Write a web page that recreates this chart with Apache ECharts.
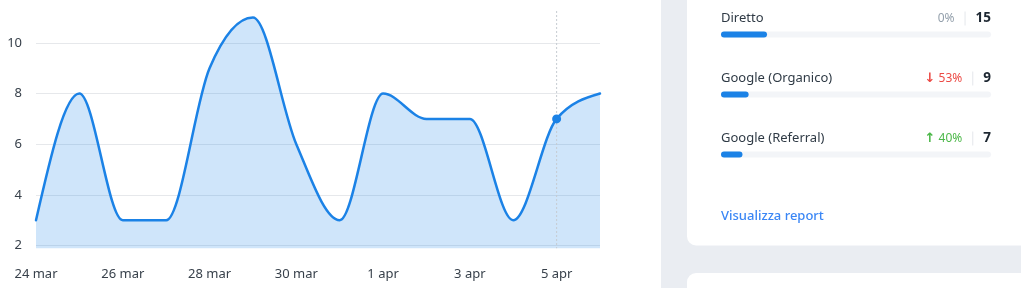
<!DOCTYPE html>
<html>
<head>
<meta charset="utf-8">
<script src="https://cdn.jsdelivr.net/npm/echarts@6/dist/echarts.min.js"></script>
<style>
html,body{margin:0;padding:0;background:#fff;}
#c{width:1021px;height:288px;}
</style>
</head>
<body>
<div id="c"></div>
<script>
// ---- data ----
const categories = ['24 mar','25 mar','26 mar','27 mar','28 mar','29 mar','30 mar','31 mar','1 apr','2 apr','3 apr','4 apr','5 apr','6 apr'];
const visits = [3, 8, 3, 3, 9, 11, 6, 3, 8, 7, 7, 3, 7, 8];
const highlightIndex = 12;
const yTicks = [2, 4, 6, 8, 10];

const sourceNames = ['Diretto', 'Google (Organico)', 'Google (Referral)'];
const sourceCounts = [15, 9, 7];
const sourceChanges = ['0%', '53%', '40%'];
const sourceTrend = [0, -1, 1];
const sourceScaleMax = 88;
const linkText = 'Visualizza report';

// ---- styles ----
const FONT = '"Noto Sans", Lato, sans-serif';
const BLUE = '#1b82e6';

// monotone cubic (d3 curveMonotoneX) slopes in pixel space
function monotoneSlopes(px, py) {
  const n = px.length, t = new Array(n).fill(0);
  for (let i = 1; i < n - 1; i++) {
    const h0 = px[i] - px[i - 1], h1 = px[i + 1] - px[i];
    const s0 = (py[i] - py[i - 1]) / h0, s1 = (py[i + 1] - py[i]) / h1;
    const p = (s0 * h1 + s1 * h0) / (h0 + h1);
    t[i] = (Math.sign(s0) + Math.sign(s1)) * Math.min(Math.abs(s0), Math.abs(s1), 0.5 * Math.abs(p)) || 0;
  }
  const h = px[1] - px[0];
  t[0] = (3 * (py[1] - py[0]) / h - t[1]) / 2;
  const hn = px[n - 1] - px[n - 2];
  t[n - 1] = (3 * (py[n - 1] - py[n - 2]) / hn - t[n - 2]) / 2;
  return t;
}

function renderCurve(params, api) {
  if (params.dataIndexInside !== 0) return null;
  const cs = params.coordSys;
  const n = visits.length;
  const px = [], py = [];
  for (let i = 0; i < n; i++) {
    const c = api.coord([api.value(0, i), api.value(1, i)]);
    px.push(c[0]); py.push(c[1]);
  }
  const t = monotoneSlopes(px, py);
  let d = 'M' + px[0] + ' ' + py[0];
  for (let i = 0; i < n - 1; i++) {
    const dx = (px[i + 1] - px[i]) / 3;
    d += ' C' + (px[i] + dx) + ' ' + (py[i] + dx * t[i]) + ' ' + (px[i + 1] - dx) + ' ' + (py[i + 1] - dx * t[i + 1]) + ' ' + px[i + 1] + ' ' + py[i + 1];
  }
  const bottom = cs.y + cs.height;
  const area = d + ' L' + px[n - 1] + ' ' + bottom + ' L' + px[0] + ' ' + bottom + ' Z';
  const hp = api.coord([api.value(0, highlightIndex), api.value(1, highlightIndex)]);
  return {
    type: 'group',
    children: [
      { type: 'path', shape: { pathData: area }, style: { fill: 'rgba(27,130,230,0.21)', stroke: null } },
      { type: 'line', shape: { x1: hp[0], y1: cs.y, x2: hp[0], y2: bottom }, style: { stroke: '#c6cbd1', lineWidth: 1, lineDash: [2, 2] } },
      { type: 'path', shape: { pathData: d }, style: { fill: null, stroke: BLUE, lineWidth: 2.5, lineJoin: 'round', lineCap: 'round' } },
      { type: 'circle', shape: { cx: hp[0], cy: hp[1], r: 4.5 }, style: { fill: BLUE } }
    ]
  };
}

const chart = echarts.init(document.getElementById('c'));

const rightLabels = sourceNames.map((n, i) => {
  const tr = sourceTrend[i];
  const chg = tr < 0 ? '{dna|↓}{dn| ' + sourceChanges[i] + '}' : tr > 0 ? '{upa|↑}{up| ' + sourceChanges[i] + '}' : '{flat|' + sourceChanges[i] + '}';
  return chg + '{gap|}{sep|}{gap|}{num|' + sourceCounts[i] + '}';
});

chart.setOption({
  animation: false,
  backgroundColor: '#ffffff',
  graphic: [
    { type: 'rect', z: -10, silent: true, shape: { x: 661, y: 0, width: 400, height: 288 }, style: { fill: '#eaedf2' } },
    { type: 'rect', z: -9, silent: true, shape: { x: 687, y: -30, width: 400, height: 275.5, r: 9 }, style: { fill: '#ffffff' } },
    { type: 'rect', z: -9, silent: true, shape: { x: 687, y: 273, width: 400, height: 60, r: 9 }, style: { fill: '#ffffff' } },
    { type: 'text', z: 5, silent: true, x: 721, y: 216.5, style: { text: linkText, font: '500 13px ' + FONT, fill: '#3a86f5', verticalAlign: 'middle', align: 'left' } }
  ],
  grid: [
    { left: 36, top: 11, width: 564, height: 237.3 },
    { left: 721, top: 4.5, width: 270, height: 180 }
  ],
  xAxis: [
    {
      gridIndex: 0, type: 'category', data: categories, boundaryGap: false,
      axisLine: { show: false }, axisTick: { show: false },
      axisLabel: { interval: 1, margin: 19, fontSize: 13, color: '#38414b', fontFamily: FONT },
      splitLine: { show: false }
    },
    { gridIndex: 1, type: 'value', min: 0, max: sourceScaleMax, show: false }
  ],
  yAxis: [
    {
      gridIndex: 0, type: 'value', min: 1.89, max: 11.26,
      axisLine: { show: false }, axisTick: { show: false },
      axisLabel: {
        margin: 14, fontSize: 13, color: '#38414b', fontFamily: FONT,
        showMinLabel: false, showMaxLabel: false,
        formatter: v => (yTicks.indexOf(v) >= 0 ? String(v) : '')
      },
      splitLine: { show: true, showMinLine: false, showMaxLine: false, lineStyle: { color: '#e6e8eb', width: 1 } }
    },
    { gridIndex: 1, type: 'category', data: sourceNames, inverse: true, show: false }
  ],
  series: [
    {
      type: 'custom', xAxisIndex: 0, yAxisIndex: 0, coordinateSystem: 'cartesian2d',
      data: visits.map((v, i) => [i, v]),
      encode: { x: 0, y: 1 },
      renderItem: renderCurve,
      clip: false, silent: true
    },
    {
      type: 'bar', xAxisIndex: 1, yAxisIndex: 1, data: sourceCounts, barWidth: 6,
      itemStyle: { color: BLUE, borderRadius: 3 },
      showBackground: true, backgroundStyle: { color: '#f3f5f8', borderRadius: 3 },
      label: {
        show: true, position: [0, -13], align: 'left', verticalAlign: 'middle',
        formatter: p => sourceNames[p.dataIndex],
        fontSize: 13, color: '#2f3a45', fontFamily: FONT
      },
      z: 3
    },
    {
      type: 'bar', xAxisIndex: 1, yAxisIndex: 1, data: sourceCounts, barWidth: 6, barGap: '-100%',
      itemStyle: { color: 'rgba(0,0,0,0)' }, silent: true,
      label: {
        show: true, position: [270, -13], align: 'right', verticalAlign: 'middle',
        formatter: p => rightLabels[p.dataIndex],
        fontFamily: FONT,
        rich: {
          flat: { fontSize: 12, color: '#94a0ac', fontFamily: FONT },
          dna: { fontSize: 13, fontWeight: 'bold', color: '#ec4a45', fontFamily: 'DejaVu Sans' },
          dn: { fontSize: 12, color: '#ec4a45', fontFamily: FONT },
          upa: { fontSize: 13, fontWeight: 'bold', color: '#4cb849', fontFamily: 'DejaVu Sans' },
          up: { fontSize: 12, color: '#4cb849', fontFamily: FONT },
          gap: { width: 10 },
          sep: { width: 1, height: 14, backgroundColor: '#e4e7eb' },
          num: { fontSize: 13.5, fontWeight: 'bold', color: '#1d2731', fontFamily: FONT }
        }
      },
      z: 4
    }
  ]
});
</script>
</body>
</html>
